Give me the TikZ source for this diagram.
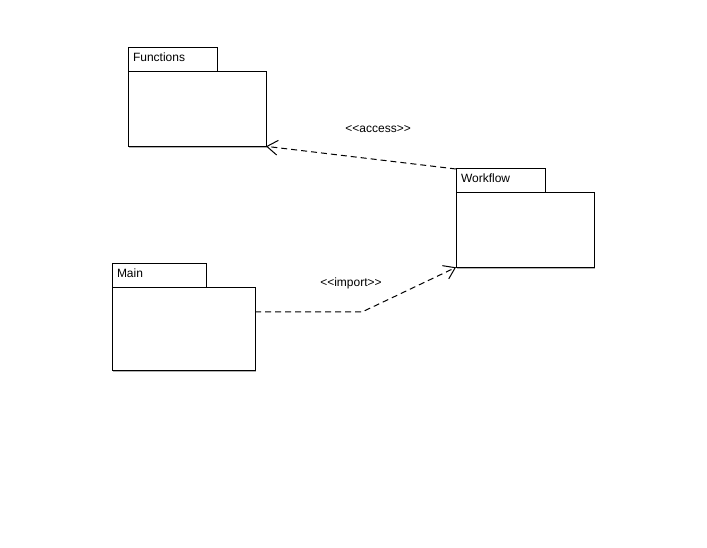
\documentclass[tikz,border=0pt]{standalone}
\usepackage{fontspec}
\setmainfont{Liberation Sans}
\usetikzlibrary{arrows.meta,positioning,shadows}

\begin{document}
\begin{tikzpicture}[x=0.75pt,y=-0.75pt,font=\fontsize{9}{10}\selectfont,
    dep/.style={dash pattern=on 4.5pt off 3pt,line width=0.75pt,
      -{Straight Barb[length=8pt,width=11pt,line width=0.75pt]}}]
  \tikzstyle{pkg}=[rectangle,draw,line width=0.75pt,fill=white,outer sep=0pt,
    drop shadow={shadow xshift=0.9pt,shadow yshift=-0.9pt,fill=black!30,opacity=1}]
  \tikzstyle{pkgtab}=[pkg,minimum height=17.5pt,inner xsep=3.75pt,inner ysep=0pt,
    text height=7pt,text depth=4pt,align=left]
  \useasboundingbox (0,0) rectangle (707,548);

  % Packages
  \node[pkgtab,text width=59.25pt,anchor=north west] (fntab) at (128,48) {Functions};
  \node[pkg,minimum width=103.5pt,minimum height=56.25pt] (fnbody)
    [below right=0pt of fntab.south west] {};

  \node[pkgtab,text width=59.25pt,anchor=north west] (wftab) at (456,169) {Workflow};
  \node[pkg,minimum width=103.5pt,minimum height=56.25pt] (wfbody)
    [below right=0pt of wftab.south west] {};

  \node[pkgtab,text width=63pt,anchor=north west] (mntab) at (112,264) {Main};
  \node[pkg,minimum width=107.25pt,minimum height=62.25pt] (mnbody)
    [below right=0pt of mntab.south west] {};

  % Dependencies
  \coordinate (imbend) at (362,312);
  \draw[dep] (wftab.north west) -- node[pos=.41,yshift=23pt] {<{}<access>{}>} (fnbody.south east);
  \draw[dep] (mnbody.east |- imbend) -- (imbend)
    node[xshift=-8.25pt,yshift=21.75pt] {<{}<import>{}>} -- (wfbody.south west);

\end{tikzpicture}
\end{document}
